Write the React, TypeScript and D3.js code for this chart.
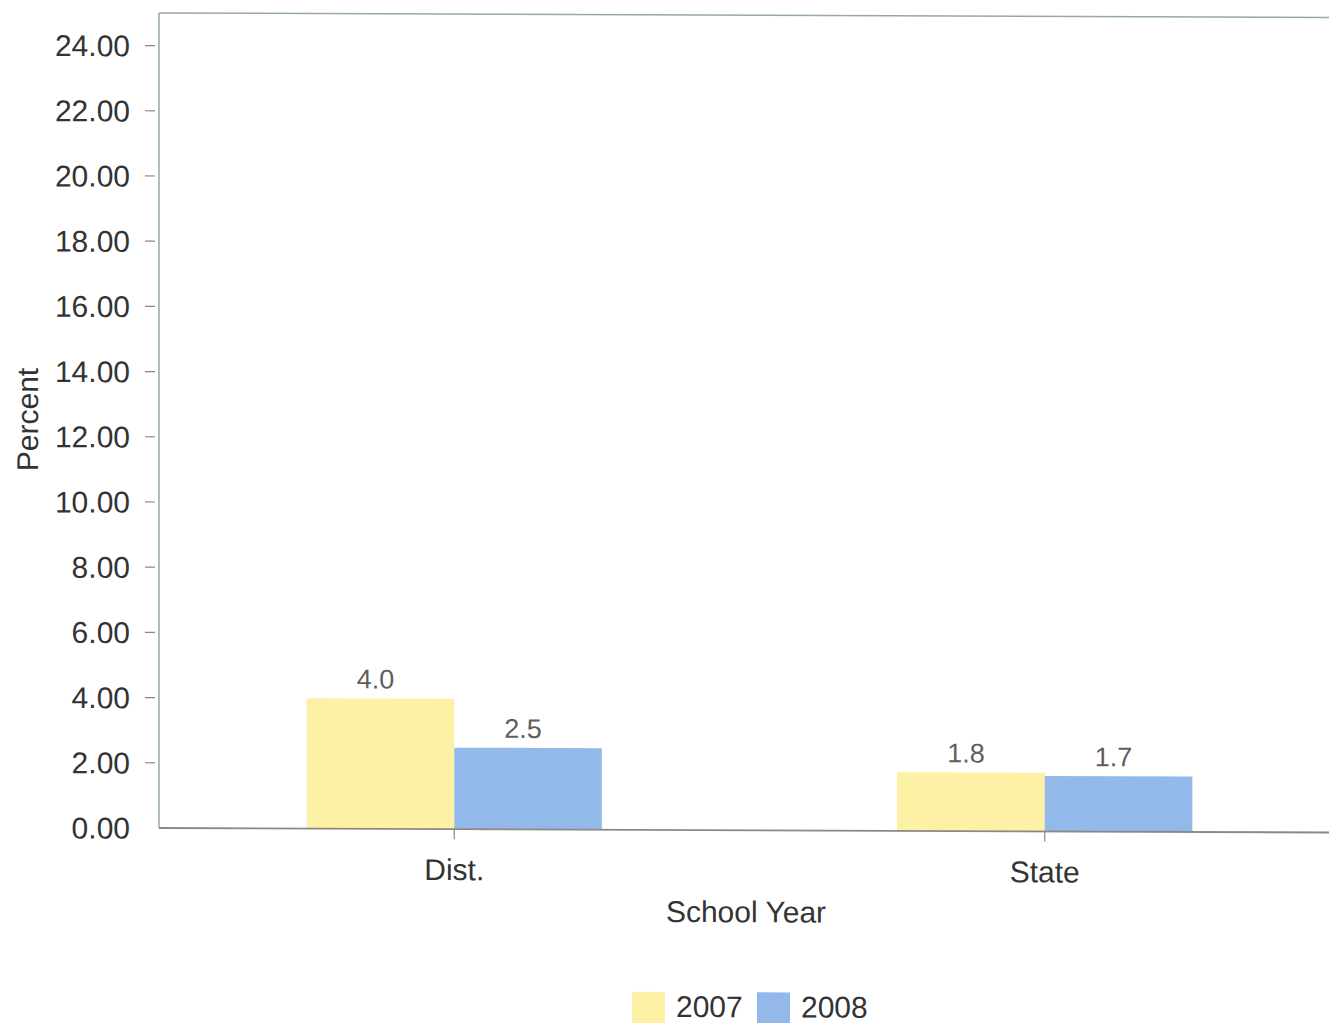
import React, { useEffect } from "react";
import * as d3 from "d3";

const categories = ["Dist.", "State"];
const seriesNames = ["2007", "2008"];
const values2007 = [4.0, 1.8];
const values2008 = [2.5, 1.7];
const yTicks = [0, 2, 4, 6, 8, 10, 12, 14, 16, 18, 20, 22, 24];
const colors = ["#FCF1A4", "#93B9EA"];

const W = 1329;
const H = 1023;
const left = 159;
const right = 1340;
const top = 13;
const bottom = 828;
const FONT = "'Liberation Sans', Arial, sans-serif";

export default function App() {
  useEffect(() => {
    document.body.style.margin = "0";
  }, []);

  const y = d3.scaleLinear().domain([0, 25]).range([bottom, top]);
  const x0 = d3.scaleBand<string>().domain(categories).range([left, right]).padding(0);
  const step = x0.bandwidth();
  const x1 = d3
    .scaleBand<string>()
    .domain(seriesNames)
    .range([step * 0.25, step * 0.75])
    .padding(0);

  const data = categories.map((c, i) => ({
    cat: c,
    vals: [values2007[i], values2008[i]],
  }));

  const skew = `translate(${left},0) skewY(0.22) translate(${-left},0)`;

  return (
    <svg
      width={W}
      height={H}
      style={{ position: "absolute", left: 0, top: 0, background: "#fff" }}
      fontFamily={FONT}
    >
      <rect x={0} y={0} width={W} height={H} fill="#fff" />
      <g transform={skew}>
        {/* bars */}
        {data.map((d) => (
          <g key={d.cat} transform={`translate(${x0(d.cat)},0)`}>
            {d.vals.map((v, j) => {
              const bx = x1(seriesNames[j])!;
              const bw = x1.bandwidth();
              return (
                <g key={j}>
                  <rect
                    x={bx}
                    y={y(v)}
                    width={bw}
                    height={y(0) - y(v)}
                    fill={colors[j]}
                  />
                  <text
                    x={bx + bw / 2 - 5}
                    y={y(v) - 10}
                    textAnchor="middle"
                    fontSize={27}
                    fill="#5e5e5e"
                  >
                    {v.toFixed(1)}
                  </text>
                </g>
              );
            })}
          </g>
        ))}

        {/* frame */}
        <line x1={left} x2={right} y1={top} y2={top} stroke="#93aaa6" strokeWidth={1.5} />
        <line x1={left} x2={left} y1={top} y2={bottom} stroke="#93aaa6" strokeWidth={1.5} />
        <line x1={left} x2={right} y1={bottom} y2={bottom} stroke="#8c8886" strokeWidth={1.8} />

        {/* y ticks */}
        {yTicks.map((t) => (
          <g key={t}>
            {t > 0 && (
              <line x1={145} x2={155} y1={y(t)} y2={y(t)} stroke="#888" strokeWidth={1.2} />
            )}
            <text
              x={130}
              y={y(t)}
              dy="0.36em"
              textAnchor="end"
              fontSize={30}
              fill="#333"
            >
              {t.toFixed(2)}
            </text>
          </g>
        ))}

        {/* x ticks */}
        {categories.map((c) => {
          const cx = x0(c)! + step / 2;
          return (
            <g key={c}>
              <line x1={cx} x2={cx} y1={bottom} y2={bottom + 10} stroke="#888" strokeWidth={1.2} />
              <text x={cx} y={879} textAnchor="middle" fontSize={30} fill="#333">
                {c}
              </text>
            </g>
          );
        })}

        {/* axis titles */}
        <text x={746} y={920} textAnchor="middle" fontSize={30} fill="#333">
          School Year
        </text>
        <text
          transform={`translate(38,420) rotate(-90)`}
          textAnchor="middle"
          fontSize={30}
          fill="#333"
        >
          Percent
        </text>

        {/* legend */}
        {seriesNames.map((s, i) => {
          const lx = [632, 757][i];
          return (
            <g key={s}>
              <rect x={lx} y={990} width={33} height={33} fill={colors[i]} />
              <text x={lx + 44} y={1015} fontSize={30} fill="#333">
                {s}
              </text>
            </g>
          );
        })}
      </g>
    </svg>
  );
}
